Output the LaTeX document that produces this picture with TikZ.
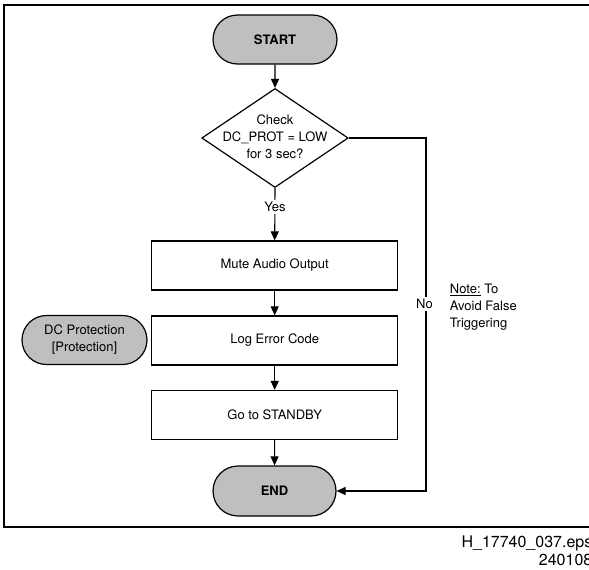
\documentclass[tikz,border=0pt]{standalone}
\usepackage{fontspec}
\setmainfont{TeX Gyre Heros}
\usetikzlibrary{shapes.misc,shapes.geometric,arrows.meta}
\definecolor{termgray}{RGB}{191,191,191}
\tikzset{
  txt/.style={font=\fontsize{13}{17}\selectfont, text=black},
  terminal/.style={txt, rounded rectangle, draw, line width=1.2pt, fill=termgray,
    minimum width=124pt, minimum height=49pt, inner sep=0pt},
  process/.style={txt, rectangle, draw, line width=1.2pt, fill=white,
    minimum width=246pt, minimum height=49pt, inner sep=0pt},
  decision/.style={diamond, draw, line width=1.2pt, fill=white,
    minimum width=146.5pt, minimum height=99pt, inner sep=0pt},
  flow/.style={line width=1.1pt, -{Triangle[length=9pt,width=8pt]}},
  plain/.style={line width=1.1pt},
  tag/.style={txt, fill=white, inner sep=2pt}
}
\begin{document}
\begin{tikzpicture}[x=1pt,y=-1pt]
  \useasboundingbox (0,0) rectangle (589,570);
  % outer frame
  \draw[line width=2.4pt] (4,5) rectangle (600,527);

  % flow nodes
  \node[terminal] (start) at (275,39.5) {\bfseries START};
  \node[decision] (check) at (275,138) {};
  \node[txt, align=center, inner sep=0pt] (checktext) at (275,137)
    {Check\\DC\_PROT = LOW\\for 3 sec?};
  \node[process] (mute) at (274.7,265.5) {Mute Audio Output};
  \node[process] (log) at (274.7,340.5) {Log Error Code};
  \node[process] (standby) at (274.7,415) {Go to STANDBY};
  \node[terminal, minimum width=123pt, minimum height=50pt] (end) at (274.5,491) {\bfseries END};
  \node[terminal, minimum width=125pt] (dcprot) at (84.5,340)
    [align=center] {DC Protection\\{}[Protection]};

  % connectors
  \draw[flow] (start) -- (check);
  \draw[flow] (check.south) -- (mute.north);
  \node[tag] (yes) at (275,207) {Yes};
  \draw[flow] (mute) -- (log);
  \draw[flow] (log) -- (standby);
  \draw[flow] (standby) -- (end);
  \coordinate (nocorner) at (426,491);
  \draw[flow] (check.east) -| (nocorner) -- (end.east);
  \node[tag] (no) at (424.5,304) {No};

  % side note
  \node[txt, align=left, anchor=north west, inner sep=0pt] (note) at (449.7,283.5)
    {\underline{Note:} To\\Avoid False\\Triggering};

  % drawing reference
  \node[font=\fontsize{16}{18.5}\selectfont, align=right, anchor=north east,
    inner sep=0pt] (ref) at (592.5,535.5) {H\_17740\_037.eps\\240108};
\end{tikzpicture}
\end{document}
